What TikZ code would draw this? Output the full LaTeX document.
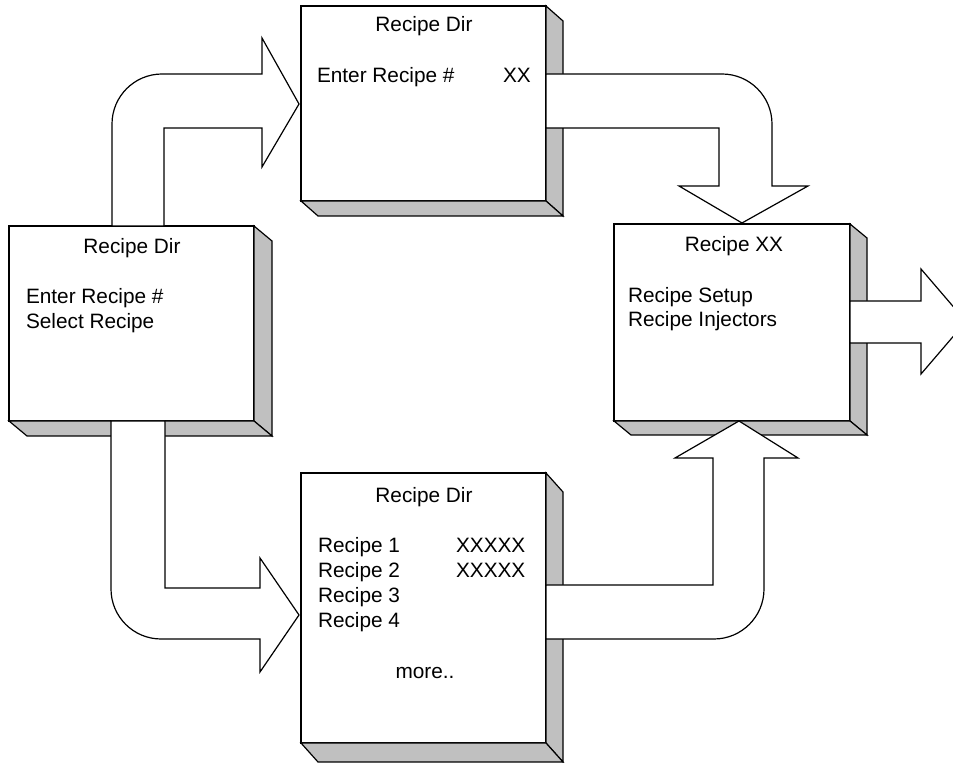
\documentclass[tikz,border=0pt]{standalone}
\usepackage{fontspec}
\setmainfont{Liberation Sans}
\definecolor{sidegray}{RGB}{192,192,192}
\begin{document}
\begin{tikzpicture}[x=0.5pt,y=-0.5pt, line width=0.6pt,
  front/.style={draw, fill=white, inner sep=0pt, outer sep=0pt, anchor=north west},
  sideface/.style={draw, fill=sidegray, line join=miter},
  flow/.style={draw, fill=white, line join=miter},
  lbl/.style={inner sep=0pt, outer sep=0pt, font=\fontsize{10.4}{12.5}\selectfont}]
\useasboundingbox (0,0) rectangle (953,763);
\clip (0,0) rectangle (953,763);

% ---- Box A (left)
\node[front, minimum width=122.5pt, minimum height=97.5pt] (A) at (9,226) {};
\filldraw[sideface] (A.north east) -- ++(18,15) -- ([shift={(18,15)}]A.south east) -- (A.south east) -- cycle;
\filldraw[sideface] (A.south west) -- ++(18,15) -- ([shift={(18,15)}]A.south east) -- (A.south east) -- cycle;

% ---- Box C (top middle)
\node[front, minimum width=122.5pt, minimum height=97.5pt] (C) at (301,6) {};
\filldraw[sideface] (C.north east) -- ++(17,15) -- ([shift={(17,15)}]C.south east) -- (C.south east) -- cycle;
\filldraw[sideface] (C.south west) -- ++(17,15) -- ([shift={(17,15)}]C.south east) -- (C.south east) -- cycle;

% ---- Box B (bottom middle)
\node[front, minimum width=122.5pt, minimum height=135pt] (B) at (301,473) {};
\filldraw[sideface] (B.north east) -- ++(17,19) -- ([shift={(17,19)}]B.south east) -- (B.south east) -- cycle;
\filldraw[sideface] (B.south west) -- ++(17,19) -- ([shift={(17,19)}]B.south east) -- (B.south east) -- cycle;

% ---- Box D (right)
\node[front, minimum width=118pt, minimum height=98.5pt] (D) at (614,224) {};
\filldraw[sideface] (D.north east) -- ++(17,14) -- ([shift={(17,14)}]D.south east) -- (D.south east) -- cycle;
\filldraw[sideface] (D.south west) -- ++(17,14) -- ([shift={(17,14)}]D.south east) -- (D.south east) -- cycle;

% ---- Block arrows
\draw[flow] (112,226) -- (112,124) .. controls (112,96.4) and (134.4,74) .. (162,74) -- (262,74)
  -- (262,38) -- (299,104) -- (262,167) -- (262,128) -- (164,128) -- (164,226) -- cycle;
\draw[flow] (546,74) -- (722,74) .. controls (749.6,74) and (772,96.4) .. (772,124) -- (772,186)
  -- (808,186) -- (742,223) -- (679,186) -- (719,186) -- (719,128) -- (546,128) -- cycle;
\draw[flow] (111,421) -- (111,589) .. controls (111,616.6) and (133.4,639) .. (161,639) -- (260,639)
  -- (260,672) -- (299,615) -- (260,558) -- (260,588) -- (165,588) -- (165,421) -- cycle;
\draw[flow] (546,639) -- (714,639) .. controls (741.6,639) and (764,616.6) .. (764,589) -- (764,458)
  -- (798,458) -- (739,421) -- (675,458) -- (713,458) -- (713,585) -- (546,585) -- cycle;
\draw[flow] (850,301) -- (921,301) -- (921,269) -- (966,321.5) -- (921,374) -- (921,343) -- (850,343) -- cycle;

% ---- Texts box A
\node[lbl, anchor=base] (tA) at (132,254) {Recipe Dir};
\node[lbl, anchor=base west] (tA1) at (26,304) {Enter Recipe \#};
\node[lbl, anchor=base west] (tA2) at (26,329) {Select Recipe};

% ---- Texts box C
\node[lbl, anchor=base] (tC) at (424,32) {Recipe Dir};
\node[lbl, anchor=base west] (tC1) at (317,83) {Enter Recipe \#};
\node[lbl, anchor=base west] (tC2) at (503,83) {XX};

% ---- Texts box D
\node[lbl, anchor=base] (tD) at (734,252) {Recipe XX};
\node[lbl, anchor=base west] (tD1) at (628,303) {Recipe Setup};
\node[lbl, anchor=base west] (tD2) at (628,327) {Recipe Injectors};

% ---- Texts box B
\node[lbl, anchor=base] (tB) at (424,503) {Recipe Dir};
\node[lbl, anchor=base west] (tB1) at (318,553) {Recipe 1};
\node[lbl, anchor=base west] (tB2) at (318,578) {Recipe 2};
\node[lbl, anchor=base west] (tB3) at (318,603) {Recipe 3};
\node[lbl, anchor=base west] (tB4) at (318,628) {Recipe 4};
\node[lbl, anchor=base west] (tBx1) at (456,553) {XXXXX};
\node[lbl, anchor=base west] (tBx2) at (456,578) {XXXXX};
\node[lbl, anchor=base] (tBm) at (425,679) {more..};
\end{tikzpicture}
\end{document}
